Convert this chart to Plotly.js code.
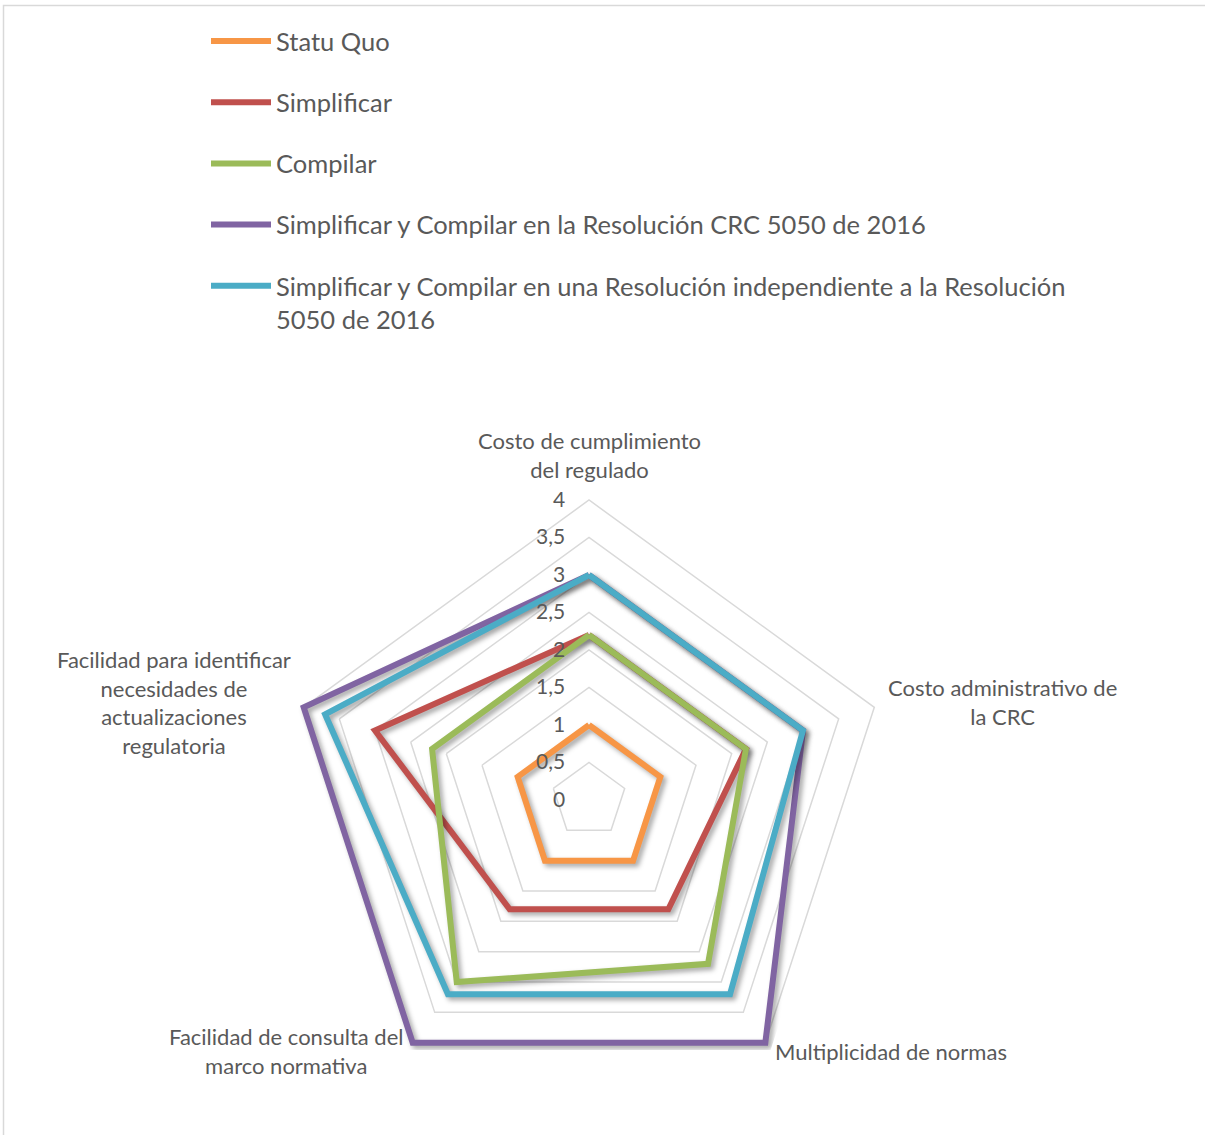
<!DOCTYPE html>
<html>
<head>
<meta charset="utf-8">
<script src="https://cdn.plot.ly/plotly-3.0.1.min.js"></script>
<style>
html,body{margin:0;padding:0;background:#fff;}
#chart{width:1205px;height:1135px;}
.polarlayer .scatterlayer .js-line{filter:drop-shadow(3px 3px 2.5px rgba(0,0,0,0.35));}
</style>
</head>
<body>
<div id="chart"></div>
<script>
// ---- Data ----
const categories = [
  "Costo de cumplimiento<br>del regulado",
  "Costo administrativo de<br>la CRC",
  "Multiplicidad de normas",
  "Facilidad de consulta del<br>marco normativa",
  "Facilidad para identificar<br>necesidades de<br>actualizaciones<br>regulatoria"
];
const seriesNames = [
  "Statu Quo",
  "Simplificar",
  "Compilar",
  "Simplificar y Compilar en la Resolución CRC 5050 de 2016",
  "Simplificar y Compilar en una Resolución independiente a la Resolución<br>5050 de 2016"
];
const statuQuo      = [1, 1, 1, 1, 1];
const simplificar   = [2.2, 2.2, 1.8, 1.8, 3];
const compilar      = [2.2, 2.2, 2.7, 3, 2.2];
const simpCompCRC   = [3, 3, 4, 4, 4];
const simpCompIndep = [3, 3, 3.2, 3.2, 3.7];
const radialTicks   = [0, 0.5, 1, 1.5, 2, 2.5, 3, 3.5, 4];

// ---- Styles ----
const colors = ["#F79646", "#C0504D", "#9BBB59", "#8064A2", "#4BACC6"];
const allSeries = [statuQuo, simplificar, compilar, simpCompCRC, simpCompIndep];
const textColor = "#595959";
const FONT = "Lato, 'Open Sans', sans-serif";
const W = 1205, H = 1135;

const traces = allSeries.map((vals, i) => ({
  type: "scatterpolar",
  mode: "lines",
  name: seriesNames[i],
  r: vals.concat([vals[0]]),
  theta: categories.concat([categories[0]]),
  line: {color: colors[i], width: 6},
  legendgroup: "g" + i,
  cliponaxis: false,
  hoverinfo: "name+r+theta"
}));

// category label placement (pixel anchors)
const labelPos = [
  {x: 589, y: 455, xa: "center"},
  {x: 886, y: 702, xa: "left"},
  {x: 773, y: 1051, xa: "left"},
  {x: 405, y: 1051, xa: "right"},
  {x: 293, y: 702, xa: "right"}
];
const annotations = categories.map((c, i) => ({
  xref: "paper", yref: "paper",
  x: labelPos[i].x / W, y: 1 - labelPos[i].y / H,
  xanchor: labelPos[i].xa, yanchor: "middle",
  align: "center",
  text: c, showarrow: false,
  font: {family: FONT, size: 22, color: textColor}
}));

const rMax = 4, rPad = 4.12;
const cx = 589, cy = 800, R = 300 * rPad / rMax;
const layout = {
  width: W, height: H,
  margin: {l: 0, r: 0, t: 0, b: 0},
  paper_bgcolor: "#fff",
  separators: ",.",
  font: {family: FONT, color: textColor},
  showlegend: true,
  legend: {
    x: 206 / W, y: 1 - 18 / H, xanchor: "left", yanchor: "top",
    orientation: "v",
    traceorder: "grouped",
    tracegroupgap: 25,
    itemwidth: 60,
    valign: "top",
    font: {family: FONT, size: 25.5, color: textColor},
    bgcolor: "rgba(0,0,0,0)"
  },
  polar: {
    domain: {x: [(cx - R) / W, (cx + R) / W], y: [1 - (cy + R) / H, 1 - (cy - R) / H]},
    gridshape: "linear",
    bgcolor: "#fff",
    radialaxis: {
      range: [0, rPad],
      tickvals: radialTicks,
      angle: 90,
      side: "counterclockwise",
      showline: false,
      ticks: "outside", ticklen: 16, tickcolor: "rgba(0,0,0,0)",
      tickangle: 90,
      gridcolor: "#d9d9d9", gridwidth: 1.5,
      tickfont: {family: FONT, size: 21, color: textColor}
    },
    angularaxis: {
      rotation: 90,
      direction: "clockwise",
      showgrid: false,
      showline: false,
      ticks: "",
      showticklabels: false
    }
  },
  shapes: [{
    type: "rect", xref: "paper", yref: "paper",
    x0: 3.5 / W, x1: 1.05, y0: -0.05, y1: 1 - 5.5 / H,
    line: {color: "#d9d9d9", width: 1.5}, fillcolor: "rgba(0,0,0,0)"
  }],
  annotations: annotations
};

Plotly.newPlot("chart", traces, layout, {displayModeBar: false, staticPlot: true});
</script>
</body>
</html>
